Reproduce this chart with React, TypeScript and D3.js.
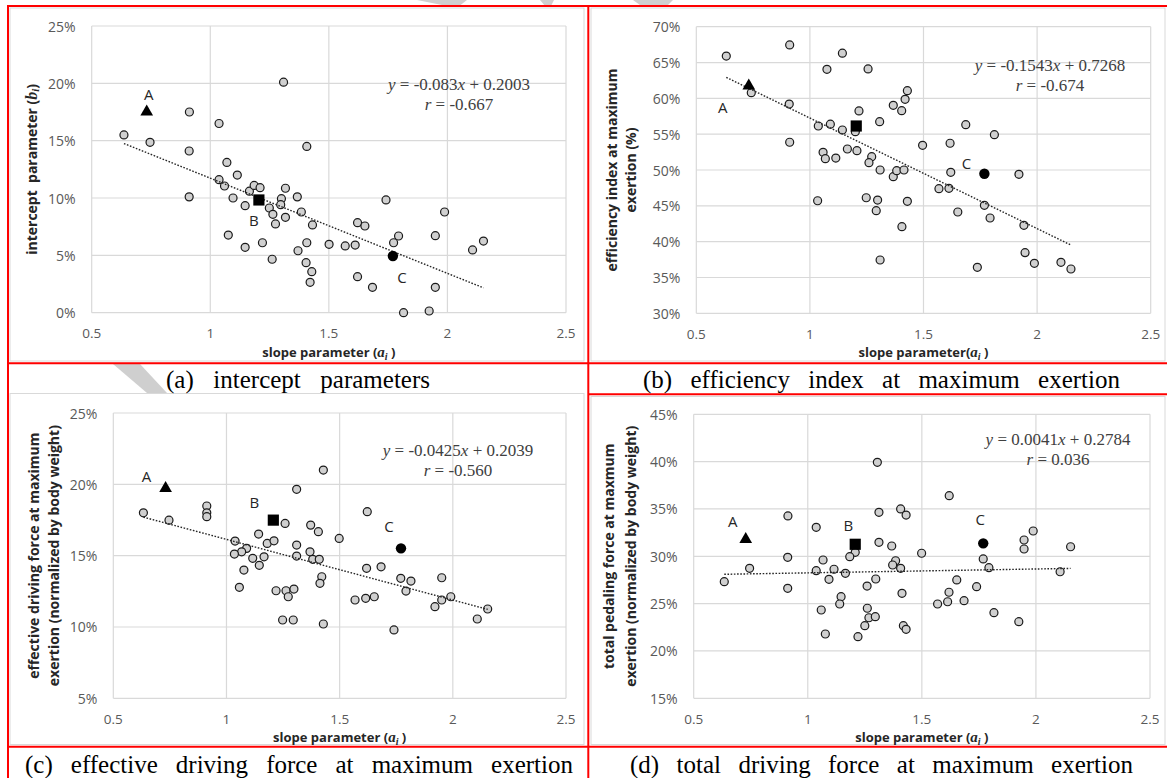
import React, { useEffect, useRef } from 'react';
import * as d3 from 'd3';

// ---------- DATA ----------
const xTicks = [0.5, 1, 1.5, 2, 2.5];

const aTicks = [0, 5, 10, 15, 20, 25];
const bTicks = [30, 35, 40, 45, 50, 55, 60, 65, 70];
const cTicks = [5, 10, 15, 20, 25];
const dTicks = [15, 20, 25, 30, 35, 40, 45];

// [slope parameter a_i, value in %]
const interceptPoints: [number, number][] = [
  [0.636, 15.5], [0.746, 14.86], [0.912, 17.5], [0.911, 14.1], [0.911, 10.1], [1.037, 16.5], [1.07, 13.1],
  [1.114, 12.0], [1.037, 11.6], [1.06, 11.05], [1.096, 10.0], [1.165, 10.6], [1.185, 11.1], [1.21, 10.9],
  [1.147, 9.33], [1.249, 9.13], [1.264, 8.58], [1.275, 7.74], [1.317, 8.32], [1.3, 9.94], [1.297, 9.42],
  [1.317, 10.85], [1.309, 20.1], [1.367, 10.1], [1.384, 8.78], [1.076, 6.77], [1.147, 5.7], [1.22, 6.1],
  [1.261, 4.66], [1.37, 5.4], [1.407, 14.5], [1.431, 7.65], [1.621, 7.85], [1.652, 7.56], [1.741, 9.83],
  [1.988, 8.78], [1.794, 6.69], [1.949, 6.72], [1.773, 6.1], [2.152, 6.25], [2.106, 5.47], [1.407, 6.1],
  [1.501, 5.96], [1.569, 5.82], [1.611, 5.9], [1.404, 4.36], [1.428, 3.58], [1.421, 2.65], [1.621, 3.14],
  [1.684, 2.21], [1.949, 2.21], [1.815, 0.0], [1.923, 0.15],
];

const efficiencyPoints: [number, number][] = [
  [0.632, 65.9], [0.742, 60.79], [0.911, 67.45], [0.909, 59.2], [0.911, 53.87], [1.143, 66.3], [1.075, 64.05],
  [1.256, 64.1], [1.037, 56.14], [1.09, 56.4], [1.143, 55.58], [1.216, 58.24], [1.2, 55.35], [1.307, 56.74],
  [1.058, 52.47], [1.068, 51.58], [1.114, 51.67], [1.165, 52.93], [1.207, 52.7], [1.272, 51.86], [1.26, 51.02],
  [1.309, 50.0], [1.034, 45.71], [1.248, 46.13], [1.298, 45.8], [1.292, 44.32], [1.429, 61.07], [1.419, 59.87],
  [1.367, 59.03], [1.404, 58.28], [1.496, 53.45], [1.617, 53.73], [1.686, 56.32], [1.812, 54.93], [1.92, 49.4],
  [1.62, 49.68], [1.367, 49.07], [1.382, 49.9], [1.414, 50.0], [1.568, 47.39], [1.612, 47.44], [1.429, 45.63],
  [1.651, 44.14], [1.768, 45.07], [1.793, 43.3], [1.942, 42.28], [1.405, 42.09], [1.309, 37.44], [1.737, 36.42],
  [1.947, 38.46], [1.988, 36.98], [2.105, 37.12], [2.149, 36.18],
];

const effectivePoints: [number, number][] = [
  [0.633, 18.0], [0.746, 17.49], [0.913, 18.48], [0.913, 18.0], [0.913, 17.73], [1.259, 17.26], [1.142, 16.51],
  [1.038, 16.02], [1.18, 15.86], [1.21, 16.04], [1.089, 15.51], [1.067, 15.27], [1.035, 15.11], [1.116, 14.81],
  [1.166, 14.92], [1.145, 14.32], [1.31, 14.97], [1.31, 15.74], [1.31, 19.65], [1.077, 13.99], [1.057, 12.78],
  [1.219, 12.54], [1.263, 12.54], [1.273, 12.12], [1.298, 12.66], [1.248, 10.49], [1.295, 10.49], [1.622, 18.08],
  [1.372, 17.14], [1.406, 16.68], [1.498, 16.21], [1.369, 15.27], [1.381, 14.74], [1.41, 14.74], [1.619, 14.11],
  [1.683, 14.22], [1.77, 13.41], [1.815, 13.22], [1.951, 13.45], [1.793, 12.52], [1.421, 13.52], [1.413, 13.06],
  [1.568, 11.89], [1.615, 12.01], [1.653, 12.12], [1.991, 12.12], [1.951, 11.89], [1.921, 11.42], [2.154, 11.26],
  [2.108, 10.56], [1.428, 10.21], [1.74, 9.79], [1.428, 21.0],
];

const totalPoints: [number, number][] = [
  [0.634, 27.32], [0.745, 28.73], [0.913, 34.26], [0.912, 29.89], [0.912, 26.62], [1.037, 33.06], [1.208, 30.42],
  [1.184, 29.96], [1.312, 34.65], [1.312, 31.48], [1.067, 29.61], [1.037, 28.48], [1.115, 28.63], [1.165, 28.2],
  [1.093, 27.57], [1.298, 27.6], [1.26, 26.86], [1.146, 25.73], [1.14, 24.96], [1.059, 24.33], [1.261, 24.51],
  [1.268, 23.51], [1.296, 23.62], [1.25, 22.67], [1.077, 21.79], [1.22, 21.51], [1.62, 36.4], [1.407, 35.0],
  [1.431, 34.36], [1.988, 32.67], [1.948, 31.72], [1.948, 30.77], [2.152, 31.01], [2.106, 28.37], [1.368, 31.09],
  [1.499, 30.32], [1.385, 29.53], [1.372, 29.08], [1.407, 28.73], [1.769, 29.72], [1.794, 28.8], [1.653, 27.5],
  [1.619, 26.2], [1.74, 26.79], [1.413, 26.09], [1.569, 24.96], [1.613, 25.2], [1.685, 25.31], [1.816, 24.04],
  [1.925, 23.09], [1.419, 22.67], [1.431, 22.29], [1.305, 39.93],
];

// highlighted subjects A (triangle), B (square), C (filled circle)
const specialNames = ['A', 'B', 'C'];
const specialsA: [number, number][] = [[0.732, 17.6], [1.205, 9.83], [1.77, 4.94]];
const specialsB: [number, number][] = [[0.731, 61.87], [1.204, 56.14], [1.768, 49.48]];
const specialsC: [number, number][] = [[0.731, 19.79], [1.207, 17.49], [1.771, 15.51]];
const specialsD: [number, number][] = [[0.728, 31.9], [1.208, 31.27], [1.769, 31.37]];

// regression: slope, intercept (fractions) and printed r
const regA = { m: -0.083, b: 0.2003, mTxt: '-0.083', bTxt: '0.2003', r: '-0.667' };
const regB = { m: -0.1543, b: 0.7268, mTxt: '-0.1543', bTxt: '0.7268', r: '-0.674' };
const regC = { m: -0.0425, b: 0.2039, mTxt: '-0.0425', bTxt: '0.2039', r: '-0.560' };
const regD = { m: 0.0041, b: 0.2784, mTxt: '0.0041', bTxt: '0.2784', r: '0.036' };

const captionA = ['(a)', 'intercept', 'parameters'];
const captionB = ['(b)', 'efficiency', 'index', 'at', 'maximum', 'exertion'];
const captionC = ['(c)', 'effective', 'driving', 'force', 'at', 'maximum', 'exertion'];
const captionD = ['(d)', 'total', 'driving', 'force', 'at', 'maximum', 'exertion'];

// ---------- LAYOUT ----------
const SANS = '"Open Sans", "Noto Sans", sans-serif';
const SERIF = '"Liberation Serif", "Times New Roman", serif';

type Panel = {
  x0: number; x1: number; yTop: number; yBot: number;
  yTicks: number[]; pts: [number, number][]; sp: [number, number][];
  reg: typeof regA; eqX: number; eqY: number;
  yTitle: string[]; yTitleX: number[]; italicB?: boolean; xTitleGlue: boolean;
  labelOff: ([number, number] | null)[];
  area: [number, number, number, number];
};

const panels: Panel[] = [
  {
    x0: 91.7, x1: 566, yTop: 26, yBot: 312.7, yTicks: aTicks, pts: interceptPoints, sp: specialsA, reg: regA,
    eqX: 459, eqY: 90, yTitle: ['intercept  parameter ('], yTitleX: [31], italicB: true, xTitleGlue: false,
    labelOff: [[2, -17], [-5, 20], [9, 21]], area: [10, 8, 574, 353],
  },
  {
    x0: 696.3, x1: 1150.7, yTop: 26.7, yBot: 313.3, yTicks: bTicks, pts: efficiencyPoints, sp: specialsB, reg: regB,
    eqX: 1050, eqY: 70.7, yTitle: ['efficiency index at maximum', 'exertion (%)'], yTitleX: [611, 630], xTitleGlue: true,
    labelOff: [[-26, 22], null, [-18, -11]], area: [591, 8, 574, 353],
  },
  {
    x0: 113.3, x1: 566, yTop: 413, yBot: 698.3, yTicks: cTicks, pts: effectivePoints, sp: specialsC, reg: regC,
    eqX: 458, eqY: 455.7, yTitle: ['effective driving force at maximum', 'exertion (normalized by body weight)'],
    yTitleX: [33, 53], xTitleGlue: false, labelOff: [[-19, -11], [-19, -18], [-12, -22]], area: [10, 393.5, 574, 351],
  },
  {
    x0: 693.7, x1: 1150, yTop: 414.3, yBot: 698.3, yTicks: dTicks, pts: totalPoints, sp: specialsD, reg: regD,
    eqX: 1058, eqY: 445, yTitle: ['total pedaling force at maxmum', 'exertion (normalized by body weight)'],
    yTitleX: [608, 629.5], xTitleGlue: false, labelOff: [[-13, -17], [-7, -19], [-3, -24]], area: [591, 396.5, 574, 348],
  },
];

export default function App() {
  const ref = useRef<SVGSVGElement>(null);

  useEffect(() => {
    const svg = d3.select(ref.current);
    svg.selectAll('*').remove();

    svg.append('rect').attr('width', 1167).attr('height', 778).attr('fill', '#fff');

    // faint watermark fragments
    const wm = svg.append('g').attr('fill', '#cfcfcf');
    wm.append('polygon').attr('points', '113,364 140,364 167,393 147,393');
    wm.append('polygon').attr('points', '417,0 467,0 458,7 452,7');
    wm.append('polygon').attr('points', '540,0 554,0 551,6 545,6');
    wm.append('polygon').attr('points', '633,0 673,0 668,5 640,5');

    // chart areas
    panels.forEach((p) => {
      svg.append('rect').attr('x', p.area[0]).attr('y', p.area[1]).attr('width', p.area[2]).attr('height', p.area[3])
        .attr('fill', '#fff').attr('stroke', '#d9d9d9').attr('stroke-width', 1);
    });

    // red frame
    const red = svg.append('g').attr('stroke', '#ff0000').attr('stroke-width', 2);
    const line = (x1: number, y1: number, x2: number, y2: number) =>
      red.append('line').attr('x1', x1).attr('y1', y1).attr('x2', x2).attr('y2', y2);
    line(7, 6, 1167, 6);
    line(8, 6, 8, 778);
    line(588.3, 6, 588.3, 778);
    line(8, 363.3, 1167, 363.3);
    line(588.3, 394.3, 1167, 394.3);
    line(8, 746.7, 1167, 746.7);

    panels.forEach((p) => {
      const g = svg.append('g');
      const x = d3.scaleLinear().domain([0.5, 2.5]).range([p.x0, p.x1]);
      const ymin = p.yTicks[0], ymax = p.yTicks[p.yTicks.length - 1];
      const y = d3.scaleLinear().domain([ymin, ymax]).range([p.yBot, p.yTop]);

      // grid
      const grid = g.append('g').attr('stroke', '#d9d9d9').attr('stroke-width', 1.2);
      p.yTicks.forEach((t) => {
        grid.append('line').attr('x1', p.x0).attr('x2', p.x1).attr('y1', y(t)).attr('y2', y(t));
      });
      xTicks.forEach((t) => {
        grid.append('line').attr('x1', x(t)).attr('x2', x(t)).attr('y1', p.yTop).attr('y2', p.yBot);
      });

      // tick labels
      p.yTicks.forEach((t) => {
        g.append('text').attr('x', p.x0 - 16).attr('y', y(t)).attr('text-anchor', 'end')
          .attr('dominant-baseline', 'central').attr('font-family', SANS).attr('font-size', 14)
          .attr('fill', '#595959').text(`${t}%`);
      });
      xTicks.forEach((t) => {
        g.append('text').attr('x', x(t)).attr('y', p.yBot + 20.5).attr('text-anchor', 'middle')
          .attr('dominant-baseline', 'central').attr('font-family', SANS).attr('font-size', 13.5)
          .attr('fill', '#595959').text(String(t));
      });

      // x title
      const xt = g.append('text').attr('x', (p.x0 + p.x1) / 2).attr('y', p.yBot + 44)
        .attr('text-anchor', 'middle').attr('font-family', SANS).attr('font-size', 13)
        .attr('font-weight', 'bold').attr('fill', '#262626').style('white-space', 'pre');
      xt.append('tspan').text(p.xTitleGlue ? 'slope parameter(' : 'slope parameter (');
      xt.append('tspan').attr('font-family', SERIF).attr('font-style', 'italic').attr('font-size', 15).text('a');
      xt.append('tspan').attr('font-family', SERIF).attr('font-style', 'italic').attr('font-size', 10).attr('dy', 3).text('i');
      xt.append('tspan').attr('dy', -3).text(' )');

      // y title
      const midY = (p.yTop + p.yBot) / 2;
      p.yTitle.forEach((s, i) => {
        const t = g.append('text').attr('transform', `translate(${p.yTitleX[i]},${midY}) rotate(-90)`)
          .attr('text-anchor', 'middle').attr('dominant-baseline', 'central').attr('font-family', SANS)
          .attr('font-size', 14).attr('font-weight', 'bold').attr('fill', '#262626').style('white-space', 'pre');
        t.append('tspan').text(s);
        if (p.italicB) {
          t.append('tspan').attr('font-family', SERIF).attr('font-style', 'italic').attr('font-size', 16).text('b');
          t.append('tspan').attr('font-family', SERIF).attr('font-style', 'italic').attr('font-size', 11).attr('dy', 4).text('i');
          t.append('tspan').attr('dy', -4).text(')');
        }
      });

      // points
      g.append('g').selectAll('circle').data(p.pts).join('circle')
        .attr('cx', (d) => x(d[0])).attr('cy', (d) => y(d[1])).attr('r', 4)
        .attr('fill', '#d0d0d0').attr('stroke', '#1a1a1a').attr('stroke-width', 1.2);

      // trendline
      const xs = p.pts.map((d) => d[0]).concat(p.sp.map((d) => d[0]));
      const xLo = d3.min(xs) as number, xHi = d3.max(xs) as number;
      const lineGen = d3.line<number>().x((v) => x(v)).y((v) => y(100 * (p.reg.m * v + p.reg.b)));
      g.append('path').attr('d', lineGen([xLo, xHi])).attr('fill', 'none').attr('stroke', '#262626')
        .attr('stroke-width', 1.4).attr('stroke-dasharray', '1.6,1.6');

      // special markers
      const shapes = [d3.symbolTriangle, d3.symbolSquare, d3.symbolCircle];
      const sizes = [70, 125, 85];
      p.sp.forEach((d, i) => {
        g.append('path').attr('d', d3.symbol().type(shapes[i]).size(sizes[i])())
          .attr('transform', `translate(${x(d[0])},${y(d[1]) + (i === 0 ? 1 : 0)})`).attr('fill', '#000');
        const off = p.labelOff[i];
        if (off) {
          g.append('text').attr('x', x(d[0]) + off[0]).attr('y', y(d[1]) + off[1])
            .attr('text-anchor', 'middle').attr('dominant-baseline', 'central').attr('font-family', SANS)
            .attr('font-size', 15).attr('fill', '#262626').text(specialNames[i]);
        }
      });

      // equation
      const e1 = g.append('text').attr('x', p.eqX).attr('y', p.eqY).attr('text-anchor', 'middle')
        .attr('font-family', SERIF).attr('font-size', 17).attr('fill', '#404040').style('white-space', 'pre');
      e1.append('tspan').attr('font-style', 'italic').text('y');
      e1.append('tspan').text(` = ${p.reg.mTxt}`);
      e1.append('tspan').attr('font-style', 'italic').text('x');
      e1.append('tspan').text(` + ${p.reg.bTxt}`);
      const e2 = g.append('text').attr('x', p.eqX).attr('y', p.eqY + 20).attr('text-anchor', 'middle')
        .attr('font-family', SERIF).attr('font-size', 17).attr('fill', '#404040').style('white-space', 'pre');
      e2.append('tspan').attr('font-style', 'italic').text('r');
      e2.append('tspan').text(` = ${p.reg.r}`);
    });

    // captions (justified)
    const justify = (words: string[], xa: number, xb: number, yy: number) => {
      const nodes = words.map((w) => svg.append('text').attr('y', yy).attr('font-family', SERIF)
        .attr('font-size', 25).attr('fill', '#000').text(w));
      const widths = nodes.map((n) => (n.node() as SVGTextElement).getComputedTextLength());
      const total = d3.sum(widths);
      const gap = (xb - xa - total) / (words.length - 1);
      let cx = xa;
      nodes.forEach((n, i) => { n.attr('x', cx); cx += widths[i] + gap; });
    };
    justify(captionA, 166, 430, 388);
    justify(captionB, 643, 1120, 388);
    justify(captionC, 25, 573, 773);
    justify(captionD, 630, 1133, 773);
  }, []);

  return (
    <svg ref={ref} width={1167} height={778} style={{ position: 'absolute', left: 0, top: 0, background: '#fff' }} />
  );
}
